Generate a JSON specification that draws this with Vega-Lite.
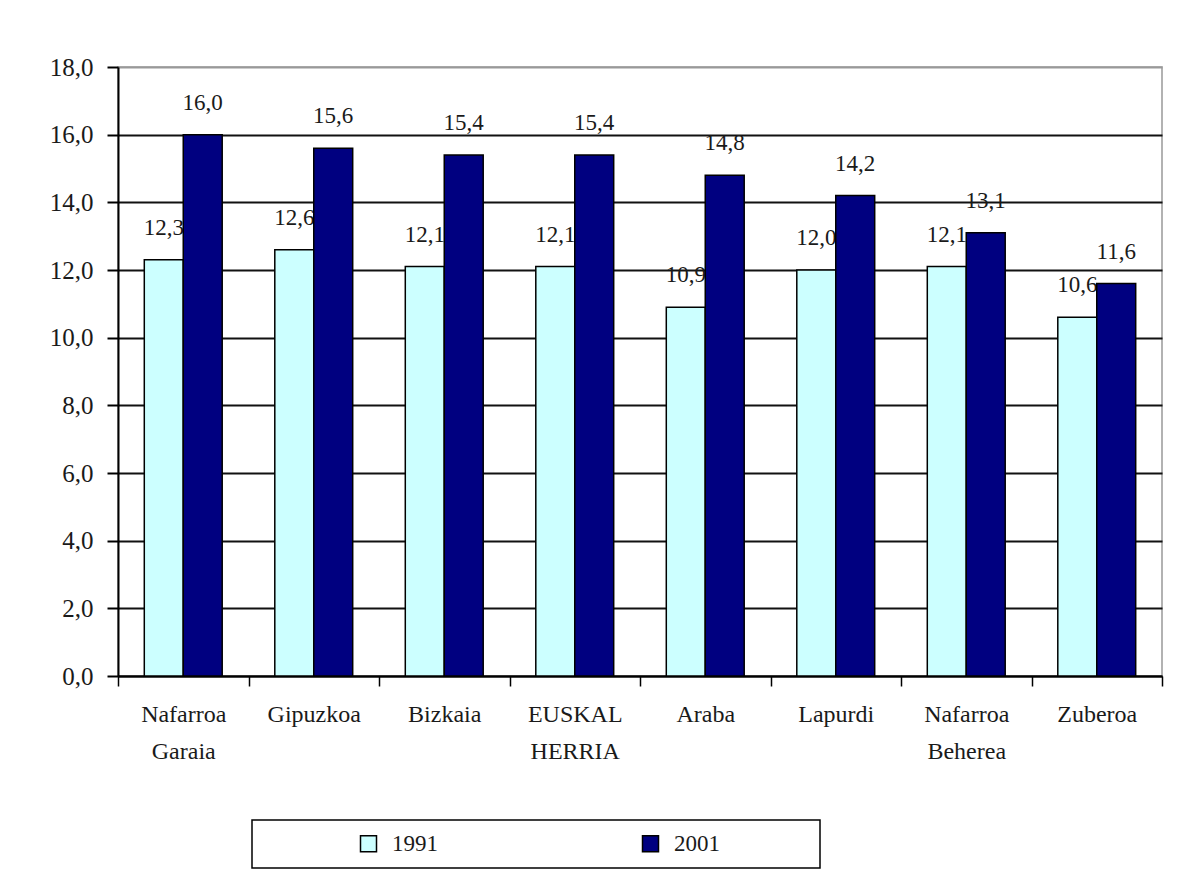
{
  "$schema": "https://vega.github.io/schema/vega-lite/v6.json",
  "width": 1044,
  "height": 609,
  "autosize": "none",
  "padding": {"left": 118, "top": 67, "right": 20, "bottom": 200},
  "background": "white",
  "data": {
    "values": [
      {"region": "Nafarroa Garaia", "year": "1991", "value": 12.3},
      {"region": "Nafarroa Garaia", "year": "2001", "value": 16.0},
      {"region": "Gipuzkoa", "year": "1991", "value": 12.6},
      {"region": "Gipuzkoa", "year": "2001", "value": 15.6},
      {"region": "Bizkaia", "year": "1991", "value": 12.1},
      {"region": "Bizkaia", "year": "2001", "value": 15.4},
      {"region": "EUSKAL HERRIA", "year": "1991", "value": 12.1},
      {"region": "EUSKAL HERRIA", "year": "2001", "value": 15.4},
      {"region": "Araba", "year": "1991", "value": 10.9},
      {"region": "Araba", "year": "2001", "value": 14.8},
      {"region": "Lapurdi", "year": "1991", "value": 12.0},
      {"region": "Lapurdi", "year": "2001", "value": 14.2},
      {"region": "Nafarroa Beherea", "year": "1991", "value": 12.1},
      {"region": "Nafarroa Beherea", "year": "2001", "value": 13.1},
      {"region": "Zuberoa", "year": "1991", "value": 10.6},
      {"region": "Zuberoa", "year": "2001", "value": 11.6}
    ]
  },
  "encoding": {
    "x": {
      "field": "region",
      "type": "nominal",
      "sort": null,
      "scale": {"paddingInner": 0, "paddingOuter": 0},
      "axis": {
        "title": null,
        "labelExpr": "split(datum.label, ' ')",
        "labelAngle": 0,
        "labelFont": "Liberation Serif",
        "labelFontSize": 24,
        "labelLineHeight": 37,
        "labelColor": "#1a1a1a",
        "labelPadding": 16,
        "tickBand": "extent",
        "tickSize": 10,
        "tickColor": "black",
        "tickWidth": 1.5,
        "domainColor": "black",
        "domainWidth": 2,
        "grid": false
      }
    },
    "xOffset": {
      "field": "year",
      "type": "nominal",
      "scale": {"paddingInner": 0, "paddingOuter": 0.675}
    },
    "y": {
      "field": "value",
      "type": "quantitative",
      "scale": {"domain": [0, 18], "nice": false},
      "axis": {
        "title": null,
        "values": [0, 2, 4, 6, 8, 10, 12, 14, 16, 18],
        "format": ".1f",
        "grid": true,
        "gridColor": {"condition": {"test": "datum.value === 18", "value": "#999999"}, "value": "#111111"},
        "gridWidth": 2,
        "tickSize": 11,
        "tickColor": "black",
        "tickWidth": 2,
        "domainColor": "black",
        "domainWidth": 2,
        "labelFont": "Liberation Serif",
        "labelFontSize": 25,
        "labelColor": "#1a1a1a",
        "labelPadding": 14
      }
    }
  },
  "layer": [
    {
      "mark": {"type": "text", "dy": -25, "baseline": "alphabetic", "font": "Liberation Serif", "fontSize": 23, "color": "#1a1a1a"},
      "encoding": {"text": {"field": "value", "type": "quantitative", "format": ".1f"}}
    },
    {
      "mark": {"type": "bar", "stroke": "black", "strokeWidth": 1.5},
      "encoding": {
        "color": {
          "field": "year",
          "type": "nominal",
          "scale": {"domain": ["1991", "2001"], "range": ["#CCFFFF", "#000080"]},
          "legend": {
            "orient": "none",
            "legendX": 134,
            "legendY": 753,
            "direction": "horizontal",
            "columns": 2,
            "title": " ",
            "titleOrient": "right",
            "titlePadding": 88,
            "symbolOffset": 93,
            "strokeColor": "black",
            "padding": 12,
            "symbolType": "square",
            "symbolSize": 256,
            "symbolStrokeColor": "black",
            "symbolStrokeWidth": 1.5,
            "labelFont": "Liberation Serif",
            "labelFontSize": 23,
            "labelColor": "#1a1a1a",
            "labelOffset": 12,
            "columnPadding": 108
          }
        }
      }
    }
  ],
  "config": {
    "locale": {"number": {"decimal": ",", "thousands": ".", "grouping": [3], "currency": ["", " €"]}},
    "view": {"stroke": "#999999", "strokeWidth": 1.5},
    "legend": {"strokeWidth": 1.5}
  }
}
